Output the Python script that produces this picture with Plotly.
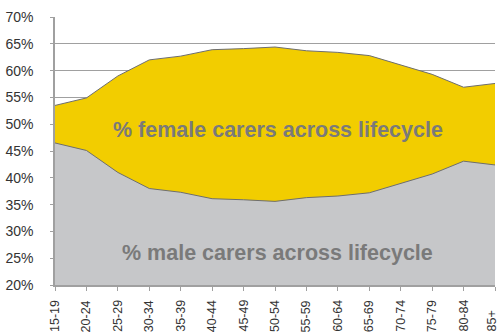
import plotly.graph_objects as go

categories = ["15-19", "20-24", "25-29", "30-34", "35-39", "40-44", "45-49", "50-54",
              "55-59", "60-64", "65-69", "70-74", "75-79", "80-84", "85+"]
female_pct = [53.5, 54.9, 59.0, 62.0, 62.7, 63.9, 64.1, 64.4, 63.7, 63.4, 62.8, 61.0, 59.3, 56.9, 57.6]
male_pct = [46.5, 45.1, 41.0, 38.0, 37.3, 36.1, 35.9, 35.6, 36.3, 36.6, 37.2, 39.0, 40.7, 43.1, 42.4]
y_ticks = [20, 25, 30, 35, 40, 45, 50, 55, 60, 65, 70]

x_idx = list(range(len(categories)))

fig = go.Figure()
fig.add_trace(go.Scatter(
    x=x_idx, y=female_pct, mode="lines", fill="tozeroy",
    fillcolor="#F2CD00", line=dict(color="#6e6e6e", width=1),
    hoverinfo="skip", showlegend=False))
fig.add_trace(go.Scatter(
    x=x_idx, y=male_pct, mode="lines", fill="tozeroy",
    fillcolor="#C6C7C9", line=dict(color="#6e6e6e", width=1),
    hoverinfo="skip", showlegend=False))

fig.add_annotation(x=7.08, y=48.9, xref="x", yref="y",
                   text="% female carers across lifecycle", showarrow=False,
                   font=dict(family="Liberation Sans, Arial", size=21.5, color="#7a7a7a", weight="bold"))
fig.add_annotation(x=7.08, y=26.0, xref="x", yref="y",
                   text="% male carers across lifecycle", showarrow=False,
                   font=dict(family="Liberation Sans, Arial", size=21.5, color="#7a7a7a", weight="bold"))

# category labels, rotated, bottom-aligned like the reference
last = len(categories) - 1
for i, cat in zip(x_idx, categories):
    fig.add_annotation(x=i, y=0, xref="x", yref="paper", yshift=-48,
                       xshift=-4 if i == last else 0,
                       xanchor="center", yanchor="bottom", textangle=-90,
                       text=cat, showarrow=False, borderpad=0,
                       font=dict(family="Liberation Sans, Arial", size=12.5, color="#333333"))

fig.update_layout(
    width=499, height=334,
    margin=dict(l=55, r=4, t=17, b=49),
    paper_bgcolor="white", plot_bgcolor="white",
    font=dict(family="Liberation Sans, Arial", color="#333333"),
    xaxis=dict(range=[0, 14], tickmode="array", tickvals=x_idx, ticktext=categories,
               showticklabels=False, showgrid=False, zeroline=False,
               showline=True, linecolor="#a0a0a0", linewidth=1.5,
               ticks="outside", ticklen=4, tickcolor="#a0a0a0",
               automargin=False),
    yaxis=dict(range=[20, 70], tickmode="array", tickvals=y_ticks,
               ticktext=[f"{v}%" for v in y_ticks],
               showgrid=True, gridcolor="#a0a0a0", gridwidth=1, zeroline=False,
               showline=True, linecolor="#a0a0a0", linewidth=1.5,
               ticks="outside", ticklen=3, tickcolor="#a0a0a0",
               tickfont=dict(size=14, color="#333333"), automargin=False,
               ticklabelstandoff=14, layer="below traces"),
)

fig.write_html("out.html")
